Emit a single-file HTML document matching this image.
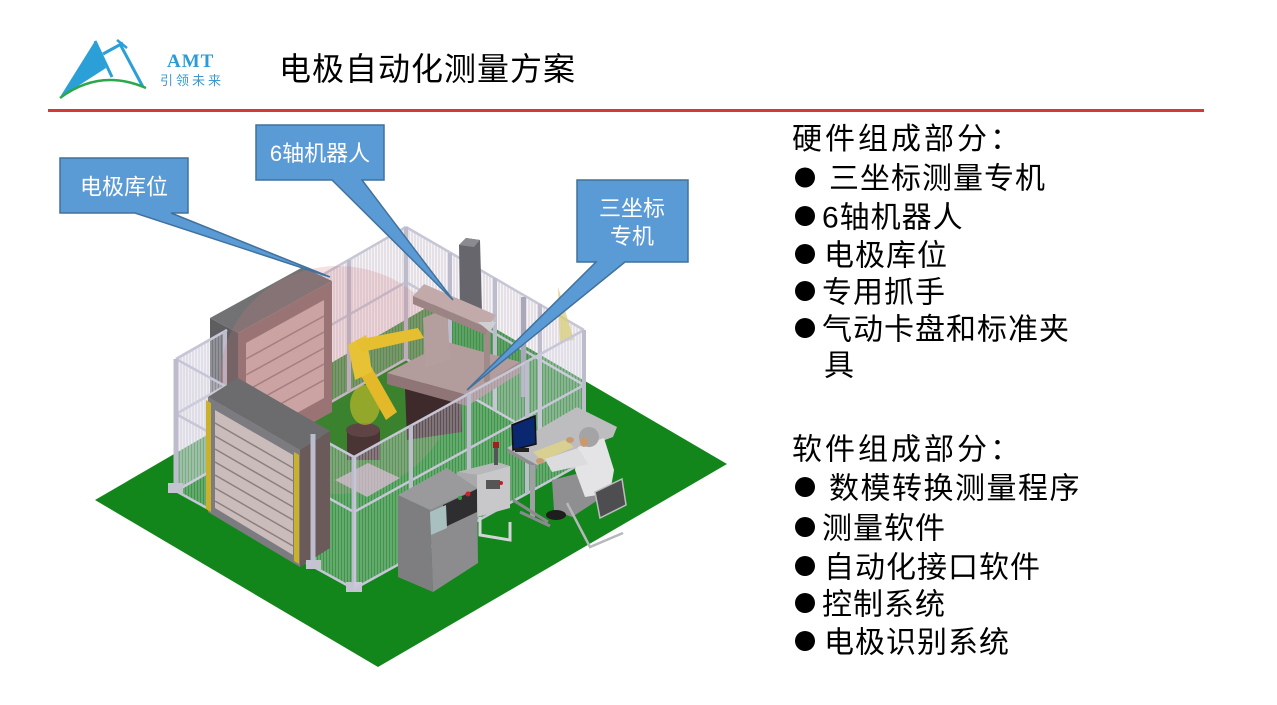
<!DOCTYPE html>
<html><head><meta charset="utf-8"><style>
html,body{margin:0;padding:0;background:#fff}
body{width:1277px;height:705px;overflow:hidden;position:relative}
svg{position:absolute;left:0;top:0}
.t{font-family:"Liberation Sans","Noto Sans CJK SC",sans-serif}
</style></head><body>
<svg width="1277" height="705" viewBox="0 0 1277 705" xmlns="http://www.w3.org/2000/svg">
<defs>
<pattern id="mesh" width="3" height="6" patternUnits="userSpaceOnUse">
<rect width="3" height="6" fill="rgba(225,225,235,0.2)"/>
<line x1="1" y1="0" x2="1" y2="6" stroke="rgba(205,205,220,0.65)" stroke-width="0.9"/>
</pattern>
<pattern id="meshd" width="3" height="6" patternUnits="userSpaceOnUse">
<rect width="3" height="6" fill="rgba(210,200,210,0.22)"/>
<line x1="1" y1="0" x2="1" y2="6" stroke="rgba(190,180,195,0.65)" stroke-width="0.9"/>
</pattern>
</defs>

<!-- header -->
<polygon points="60,97 95,41 106,68 78,86" fill="#2a9fd8"/>
<line x1="95" y1="41" x2="112" y2="77" stroke="#2a9fd8" stroke-width="3"/>
<line x1="103" y1="54" x2="123" y2="43" stroke="#2a9fd8" stroke-width="3"/>
<line x1="120" y1="44" x2="143" y2="87" stroke="#2a9fd8" stroke-width="3"/>
<line x1="117" y1="40" x2="127" y2="48" stroke="#2a9fd8" stroke-width="2.5"/>
<path d="M60,98 Q100,68 146,88" stroke="#2aa84a" stroke-width="2.5" fill="none"/>
<text x="167" y="67" font-family="Liberation Serif" font-weight="bold" font-size="19" fill="#2b9bd6" letter-spacing="1">AMT</text>
<text x="160" y="85" class="t" font-size="13" fill="#3a9ad0" letter-spacing="3">引领未来</text>
<text x="279" y="80" class="t" font-size="32" fill="#000" letter-spacing="1">电极自动化测量方案</text>
<rect x="48" y="109" width="1156" height="3" fill="#d23a36"/>

<!-- floor -->
<polygon points="95,500 378,667 727,464 443,298" fill="#12861a"/>

<!-- back fences -->
<g>
<polygon points="176,359 406,227 406,359 176,491" fill="url(#meshd)"/>
<polygon points="406,227 584,330 584,462 406,359" fill="url(#meshd)"/>
<g stroke="#c6c6d6" stroke-width="2.5">
<line x1="176" y1="359" x2="406" y2="227"/><line x1="176" y1="414" x2="406" y2="282"/><line x1="176" y1="491" x2="406" y2="359"/>
<line x1="406" y1="227" x2="584" y2="330"/><line x1="406" y1="282" x2="584" y2="385"/><line x1="406" y1="359" x2="584" y2="462"/>
</g>
<g stroke="#bcbccc" stroke-width="4">
<line x1="234" y1="326" x2="234" y2="458"/><line x1="292" y1="292" x2="292" y2="424"/><line x1="349" y1="260" x2="349" y2="392"/><line x1="406" y1="227" x2="406" y2="359"/>
<line x1="450" y1="253" x2="450" y2="385"/><line x1="495" y1="278" x2="495" y2="410"/><line x1="540" y1="304" x2="540" y2="436"/>
</g>
</g>

<!-- back cabinet -->
<polygon points="210,318 238,333 238,470 210,455" fill="#5e5e60"/>
<polygon points="210,318 303,267 332,281 238,333" fill="#727274"/>
<polygon points="238,333 332,281 332,412 238,464" fill="#8c7474"/>
<polygon points="246,343 324,300 324,398 246,441" fill="#c9b0ae"/>
<g stroke="#9a8282" stroke-width="1.5">
<line x1="246" y1="359" x2="324" y2="316"/><line x1="246" y1="375" x2="324" y2="332"/><line x1="246" y1="391" x2="324" y2="348"/><line x1="246" y1="407" x2="324" y2="364"/><line x1="246" y1="423" x2="324" y2="380"/>
</g>
<!-- left fence panel in front of back cabinet -->
<polygon points="176,359 227,330 227,462 176,491" fill="url(#mesh)"/>
<g stroke="#c6c6d6" stroke-width="2.5"><line x1="176" y1="359" x2="227" y2="330"/><line x1="176" y1="414" x2="227" y2="385"/></g>
<line x1="225" y1="331" x2="225" y2="440" stroke="#bcbccc" stroke-width="4"/>

<!-- reach circle -->
<ellipse cx="338" cy="380" rx="118" ry="114" fill="rgba(205,120,125,0.22)"/>

<!-- CMM -->
<polygon points="405,388 460,375 462,432 407,440" fill="#3e2a2a"/>
<polygon points="387,373 467,395 467,406 387,384" fill="#8f7575"/>
<polygon points="467,395 520,362 520,373 467,406" fill="#a08888"/>
<polygon points="387,373 447,342 520,362 467,395" fill="#b39c9c"/>
<polygon points="423,318 447,308 450,360 425,368" fill="#b59e9e"/>
<rect x="484" y="322" width="6" height="60" fill="#a08a8a"/>
<polygon points="459,245 466,238 480,240 482,312 460,312" fill="#66666c"/>
<polygon points="459,245 466,238 480,240 474,247" fill="#8a8a90"/>
<polygon points="413,296 424,284 496,315 488,328" fill="#c2aaaa"/>
<polygon points="413,296 488,328 486,335 413,304" fill="#9c8484"/>
<polygon points="478,322 496,322 490,332" fill="#d0d0d4"/>

<!-- robot -->
<polygon points="335,480 368,463 400,478 367,497" fill="#b0a4a4"/>
<rect x="347" y="430" width="33" height="30" fill="#4a3434"/>
<ellipse cx="363" cy="430" rx="17" ry="7" fill="#5e4444"/>
<ellipse cx="365" cy="405" rx="15" ry="20" fill="rgba(220,200,40,0.55)"/>
<polygon points="352,360 364,354 397,412 386,420" fill="#e3b92a"/>
<polygon points="348,345 366,335 372,372 355,380" fill="#e8c235"/>
<polygon points="356,340 418,328 424,338 362,352" fill="#e6bf30"/>

<!-- yellow triangle / pole -->
<polygon points="558,287 574,340 560,342" fill="rgba(215,205,120,0.75)"/>
<rect x="521" y="297" width="5" height="100" fill="#a8a8b8"/>

<!-- front-left fence -->
<polygon points="176,359 354,457 354,589 176,491" fill="url(#mesh)"/>
<g stroke="#c6c6d6" stroke-width="2.5"><line x1="176" y1="359" x2="354" y2="457"/><line x1="176" y1="414" x2="354" y2="512"/><line x1="176" y1="491" x2="354" y2="589"/></g>
<line x1="176" y1="359" x2="176" y2="491" stroke="#bcbccc" stroke-width="5"/>
<rect x="168" y="483" width="15" height="10" fill="#c4c4d0"/>

<!-- front cabinet -->
<polygon points="208,397 238,378 330,431 300,450" fill="#6c6c6e"/>
<polygon points="300,450 330,431 330,548 300,567" fill="#6a5a5a"/>
<polygon points="208,397 300,450 300,567 208,512" fill="#7c7c80"/>
<polygon points="215,410 293,455 293,555 215,508" fill="#cbbcbc"/>
<g stroke="#8e7e7e" stroke-width="1.5">
<line x1="215" y1="423" x2="293" y2="468"/><line x1="215" y1="436" x2="293" y2="481"/><line x1="215" y1="449" x2="293" y2="494"/><line x1="215" y1="462" x2="293" y2="507"/><line x1="215" y1="475" x2="293" y2="520"/><line x1="215" y1="488" x2="293" y2="533"/><line x1="215" y1="501" x2="293" y2="546"/>
</g>
<polygon points="206,400 211,403 211,512 206,509" fill="#c9b22a"/>
<polygon points="294,452 299,455 299,564 294,561" fill="#c9b22a"/>
<line x1="313" y1="434" x2="313" y2="566" stroke="#bcbccc" stroke-width="5"/>
<line x1="354" y1="457" x2="354" y2="589" stroke="#bcbccc" stroke-width="5"/>
<rect x="346" y="582" width="16" height="10" fill="#c4c4d0"/>
<rect x="306" y="560" width="15" height="9" fill="#c4c4d0"/>

<!-- front-right fence -->
<polygon points="354,457 584,330 584,462 354,589" fill="url(#mesh)"/>
<g stroke="#c6c6d6" stroke-width="2.5"><line x1="354" y1="457" x2="584" y2="330"/><line x1="354" y1="512" x2="584" y2="385"/><line x1="354" y1="589" x2="584" y2="462"/></g>
<g stroke="#bcbccc" stroke-width="4">
<line x1="411" y1="425" x2="411" y2="557"/><line x1="469" y1="394" x2="469" y2="526"/><line x1="527" y1="362" x2="527" y2="494"/><line x1="584" y1="330" x2="584" y2="462"/>
</g>

<!-- secondary box -->
<polygon points="457,472 497,462 510,466 477,475" fill="#b8b8bb"/>
<polygon points="477,475 510,466 510,508 477,517" fill="#c8c8ca"/>
<polygon points="457,472 477,475 477,517 457,512" fill="#a9a9ac"/>
<rect x="486" y="480" width="14" height="9" fill="#555"/>
<circle cx="501" cy="483" r="2" fill="#c02020"/>
<rect x="494" y="448" width="4" height="17" fill="#555"/>
<rect x="493" y="442" width="6" height="6" fill="#a02020"/>
<path d="M480,517 L480,535 L510,540 L510,522" stroke="#d4d4d8" stroke-width="3" fill="none"/>

<!-- control cabinet -->
<polygon points="398,495 447,468 477,488 430,510" fill="#9a9a9d"/>
<polygon points="398,495 430,510 433,592 398,577" fill="#7e7e81"/>
<polygon points="430,510 477,488 478,563 433,592" fill="#8c8c8f"/>
<polygon points="443,505 477,489 477,512 443,528" fill="#2e2e30"/>
<polygon points="430,512 446,505 447,528 431,535" fill="#a8c0c0"/>
<circle cx="460" cy="498" r="2" fill="#30a040"/><circle cx="468" cy="494" r="2.5" fill="#d02020"/>

<!-- desk -->
<polygon points="507,448 577,407 617,427 613,437 537,465" fill="#bdbdc0"/>
<polygon points="507,448 537,465 537,469 507,452" fill="#8e8e92"/>
<rect x="530" y="465" width="5" height="52" fill="#a0a0a4"/>
<path d="M513,500 L548,522 M520,512 L550,526" stroke="#8a8a8e" stroke-width="3"/>
<polygon points="512,425 535,416 536,444 513,450" fill="#0a2870" stroke="#111" stroke-width="1.5"/>
<rect x="515" y="448" width="14" height="4" fill="#222"/>
<polygon points="533,452 565,440 574,447 542,461" fill="#d8d090"/>

<!-- person -->
<polygon points="552,480 592,470 598,500 572,517 554,510" fill="#8f8f92"/>
<ellipse cx="556" cy="515" rx="10" ry="5" fill="#1e1e1e"/>
<polygon points="578,447 604,438 614,470 610,493 585,497 575,470" fill="#e4e4e6"/>
<polygon points="545,459 578,448 588,464 552,472" fill="#dcdcde"/>
<circle cx="589" cy="437" r="10" fill="#a4a4a6"/>
<ellipse cx="584" cy="442" rx="4" ry="5" fill="#c99a70"/>
<ellipse cx="540" cy="461" rx="4" ry="3" fill="#c99a70"/>
<ellipse cx="570" cy="440" rx="4" ry="3" fill="#c99a70"/>
<polygon points="595,492 622,479 626,505 600,518" fill="#4e4e50" stroke="#bdbdc0" stroke-width="1.5"/>
<path d="M567,503 L590,547 L623,533" stroke="#b8b8bc" stroke-width="2.5" fill="none"/>

<!-- callouts -->
<g fill="#5b9bd5" stroke="#41719c" stroke-width="1.5" stroke-linejoin="miter">
<path d="M60,158 H188 V213 H171 L330,277 L135,213 H60 Z"/>
<path d="M256,125 H384 V180 H362 L453,300 L332,180 H256 Z"/>
<path d="M577,180 H688 V262 H625 L467,390 L596,262 H577 Z"/>
</g>
<g class="t" font-size="22" fill="#fff" text-anchor="middle">
<text x="124" y="194.5">电极库位</text>
<text x="320" y="161">6轴机器人</text>
<text x="632" y="216">三坐标</text>
<text x="632" y="244">专机</text>
</g>

<!-- right text -->
<g class="t" font-size="30" fill="#000">
<text x="792" y="149" letter-spacing="3">硬件组成部分：</text>
<text x="829" y="188.5" letter-spacing="1">三坐标测量专机</text>
<text x="822" y="227.5" letter-spacing="1">6轴机器人</text>
<text x="824" y="265.5" letter-spacing="1">电极库位</text>
<text x="822" y="302.5" letter-spacing="1">专用抓手</text>
<text x="822" y="339.5" letter-spacing="1">气动卡盘和标准夹</text>
<text x="824" y="375.5" letter-spacing="1">具</text>
<text x="792" y="459.5" letter-spacing="3">软件组成部分：</text>
<text x="829" y="498.5" letter-spacing="1.5">数模转换测量程序</text>
<text x="822" y="538.5" letter-spacing="1">测量软件</text>
<text x="824" y="577.5" letter-spacing="1">自动化接口软件</text>
<text x="822" y="614.5" letter-spacing="1">控制系统</text>
<text x="824" y="652.5" letter-spacing="1">电极识别系统</text>
</g>
<g fill="#000">
<circle cx="805" cy="177.5" r="10"/><circle cx="805" cy="216" r="10"/><circle cx="805" cy="254" r="10"/><circle cx="805" cy="291" r="10"/><circle cx="805" cy="328" r="10"/>
<circle cx="805" cy="487" r="10"/><circle cx="805" cy="527" r="10"/><circle cx="805" cy="566" r="10"/><circle cx="805" cy="603" r="10"/><circle cx="805" cy="641" r="10"/>
</g>
</svg>
</body></html>
